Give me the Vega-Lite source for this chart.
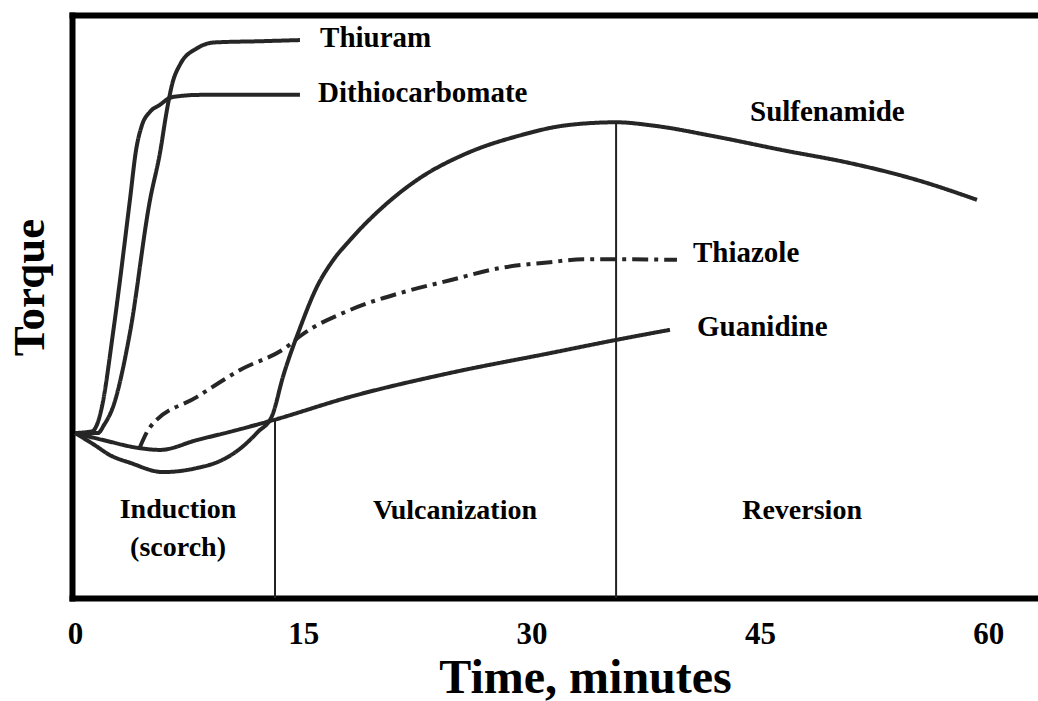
{
  "$schema": "https://vega.github.io/schema/vega-lite/v6.json",
  "width": 966,
  "height": 583,
  "autosize": {"type": "none"},
  "padding": {"left": 72, "top": 15, "right": 0, "bottom": 103},
  "background": "white",
  "config": {"view": {"stroke": null}, "font": "Liberation Serif"},
  "datasets": {
    "curves": [
      {"series": "Thiuram", "time": 0, "torque": 28.3},
      {"series": "Thiuram", "time": 1.51, "torque": 28.3},
      {"series": "Thiuram", "time": 1.91, "torque": 29.7},
      {"series": "Thiuram", "time": 2.5, "torque": 32.8},
      {"series": "Thiuram", "time": 3.61, "torque": 45.5},
      {"series": "Thiuram", "time": 4.93, "torque": 68.3},
      {"series": "Thiuram", "time": 5.58, "torque": 76.3},
      {"series": "Thiuram", "time": 6.04, "torque": 83.7},
      {"series": "Thiuram", "time": 6.37, "torque": 88.0},
      {"series": "Thiuram", "time": 6.9, "torque": 91.5},
      {"series": "Thiuram", "time": 8.02, "torque": 94.3},
      {"series": "Thiuram", "time": 9.2, "torque": 95.3},
      {"series": "Thiuram", "time": 12.16, "torque": 95.5},
      {"series": "Thiuram", "time": 14.78, "torque": 95.7},
      {"series": "Dithiocarbomate", "time": 0, "torque": 28.3},
      {"series": "Dithiocarbomate", "time": 1.12, "torque": 28.6},
      {"series": "Dithiocarbomate", "time": 1.51, "torque": 30.2},
      {"series": "Dithiocarbomate", "time": 1.77, "torque": 32.8},
      {"series": "Dithiocarbomate", "time": 2.5, "torque": 45.5},
      {"series": "Dithiocarbomate", "time": 3.61, "torque": 68.3},
      {"series": "Dithiocarbomate", "time": 4.01, "torque": 76.8},
      {"series": "Dithiocarbomate", "time": 4.4, "torque": 81.1},
      {"series": "Dithiocarbomate", "time": 4.93, "torque": 83.4},
      {"series": "Dithiocarbomate", "time": 5.58, "torque": 84.6},
      {"series": "Dithiocarbomate", "time": 6.24, "torque": 85.8},
      {"series": "Dithiocarbomate", "time": 6.9, "torque": 86.1},
      {"series": "Dithiocarbomate", "time": 8.21, "torque": 86.3},
      {"series": "Dithiocarbomate", "time": 14.78, "torque": 86.3},
      {"series": "Sulfenamide", "time": 0, "torque": 28.3},
      {"series": "Sulfenamide", "time": 1.31, "torque": 26.2},
      {"series": "Sulfenamide", "time": 2.3, "torque": 24.5},
      {"series": "Sulfenamide", "time": 3.61, "torque": 23.2},
      {"series": "Sulfenamide", "time": 5.78, "torque": 21.6},
      {"series": "Sulfenamide", "time": 8.02, "torque": 22.3},
      {"series": "Sulfenamide", "time": 9.53, "torque": 23.5},
      {"series": "Sulfenamide", "time": 10.84, "torque": 25.6},
      {"series": "Sulfenamide", "time": 12.02, "torque": 28.5},
      {"series": "Sulfenamide", "time": 12.94, "torque": 31.2},
      {"series": "Sulfenamide", "time": 13.67, "torque": 38.0},
      {"series": "Sulfenamide", "time": 14.78, "torque": 46.3},
      {"series": "Sulfenamide", "time": 15.9, "torque": 53.4},
      {"series": "Sulfenamide", "time": 16.95, "torque": 57.9},
      {"series": "Sulfenamide", "time": 18.07, "torque": 61.4},
      {"series": "Sulfenamide", "time": 20.24, "torque": 67.1},
      {"series": "Sulfenamide", "time": 22.47, "torque": 71.7},
      {"series": "Sulfenamide", "time": 25.76, "torque": 76.3},
      {"series": "Sulfenamide", "time": 29.04, "torque": 79.2},
      {"series": "Sulfenamide", "time": 32.33, "torque": 81.1},
      {"series": "Sulfenamide", "time": 35.61, "torque": 81.6},
      {"series": "Sulfenamide", "time": 37.78, "torque": 81.1},
      {"series": "Sulfenamide", "time": 42.18, "torque": 79.1},
      {"series": "Sulfenamide", "time": 46.52, "torque": 76.8},
      {"series": "Sulfenamide", "time": 50.92, "torque": 74.6},
      {"series": "Sulfenamide", "time": 55.32, "torque": 71.7},
      {"series": "Sulfenamide", "time": 59.26, "torque": 68.3},
      {"series": "Guanidine", "time": 0, "torque": 28.3},
      {"series": "Guanidine", "time": 1.84, "torque": 27.1},
      {"series": "Guanidine", "time": 4.27, "torque": 25.7},
      {"series": "Guanidine", "time": 5.58, "torque": 25.4},
      {"series": "Guanidine", "time": 8.02, "torque": 27.1},
      {"series": "Guanidine", "time": 10.18, "torque": 28.5},
      {"series": "Guanidine", "time": 13.01, "torque": 30.5},
      {"series": "Guanidine", "time": 18.07, "torque": 34.5},
      {"series": "Guanidine", "time": 24.64, "torque": 38.6},
      {"series": "Guanidine", "time": 31.21, "torque": 42.0},
      {"series": "Guanidine", "time": 35.61, "torque": 44.3},
      {"series": "Guanidine", "time": 39.09, "torque": 46.0},
      {"series": "Thiazole", "time": 4.27, "torque": 25.9},
      {"series": "Thiazole", "time": 4.93, "torque": 29.3},
      {"series": "Thiazole", "time": 8.02, "torque": 34.5},
      {"series": "Thiazole", "time": 10.84, "torque": 39.1},
      {"series": "Thiazole", "time": 13.93, "torque": 43.1},
      {"series": "Thiazole", "time": 14.78, "torque": 44.9},
      {"series": "Thiazole", "time": 18.07, "torque": 49.4},
      {"series": "Thiazole", "time": 21.35, "torque": 52.3},
      {"series": "Thiazole", "time": 24.64, "torque": 54.5},
      {"series": "Thiazole", "time": 27.92, "torque": 56.6},
      {"series": "Thiazole", "time": 31.21, "torque": 57.6},
      {"series": "Thiazole", "time": 33.38, "torque": 58.1},
      {"series": "Thiazole", "time": 35.61, "torque": 58.1},
      {"series": "Thiazole", "time": 39.55, "torque": 58.0}
    ],
    "phases": [
      {"time": 13.14, "torque": 30.5},
      {"time": 35.55, "torque": 81.6}
    ],
    "curveLabels": [
      {"label": "Thiuram", "time": 16.1, "torque": 96.1},
      {"label": "Dithiocarbomate", "time": 15.97, "torque": 86.6},
      {"label": "Sulfenamide", "time": 44.35, "torque": 83.4},
      {"label": "Thiazole", "time": 40.6, "torque": 59.2},
      {"label": "Guanidine", "time": 40.87, "torque": 46.5}
    ],
    "phaseLabels": [
      {"label": "Induction", "time": 6.77, "torque": 15.1},
      {"label": "(scorch)", "time": 6.77, "torque": 8.6},
      {"label": "Vulcanization", "time": 24.97, "torque": 14.9},
      {"label": "Reversion", "time": 47.77, "torque": 14.9}
    ]
  },
  "layer": [
    {
      "data": {"name": "curves"},
      "mark": {"type": "line", "interpolate": "monotone", "strokeWidth": 4, "color": "#262626"},
      "encoding": {
        "x": {
          "field": "time", "type": "quantitative",
          "scale": {"domain": [-0.197, 63.27], "nice": false, "zero": false},
          "axis": {
            "orient": "bottom", "values": [0, 15, 30, 45, 60], "ticks": false, "tickSize": 0, "grid": false,
            "domainColor": "black", "domainWidth": 6, "domainCap": "square",
            "labelFont": "Liberation Serif", "labelFontSize": 31, "labelFontWeight": "bold", "labelColor": "black",
            "labelBaseline": "alphabetic", "labelPadding": 45, "labelFlush": false, "labelOverlap": false,
            "title": "Time, minutes", "titleFont": "Liberation Serif", "titleFontSize": 48, "titleFontWeight": "bold",
            "titleColor": "black", "titleX": 513, "titleY": 94, "titleBaseline": "alphabetic", "titleAlign": "center"
          }
        },
        "y": {
          "field": "torque", "type": "quantitative",
          "scale": {"domain": [0, 100], "nice": false, "zero": false},
          "axis": {
            "orient": "left", "domainColor": "black", "domainWidth": 6, "domainCap": "square",
            "ticks": false, "labels": false, "grid": false,
            "title": "Torque", "titleFont": "Liberation Serif", "titleFontSize": 45, "titleFontWeight": "bold",
            "titleColor": "black", "titleAngle": -90, "titleX": -43, "titleY": 272,
            "titleBaseline": "middle", "titleAlign": "center"
          }
        },
        "strokeDash": {
          "field": "series", "type": "nominal",
          "scale": {"domain": ["Thiuram", "Dithiocarbomate", "Sulfenamide", "Thiazole", "Guanidine"],
                    "range": [[1, 0], [1, 0], [1, 0], [16, 6, 4, 6], [1, 0]]},
          "legend": null
        }
      }
    },
    {
      "data": {"name": "phases"},
      "mark": {"type": "rule", "strokeWidth": 2, "color": "#222222"},
      "encoding": {
        "x": {
          "field": "time", "type": "quantitative",
          "axis": {"orient": "top", "labels": false, "ticks": false, "grid": false, "title": null,
                   "domainColor": "black", "domainWidth": 6, "domainCap": "square"}
        },
        "y": {"field": "torque", "type": "quantitative"},
        "y2": {"datum": 0}
      }
    },
    {
      "data": {"name": "curveLabels"},
      "mark": {"type": "text", "align": "left", "baseline": "middle", "font": "Liberation Serif", "fontSize": 29, "fontWeight": "bold", "color": "black"},
      "encoding": {
        "x": {"field": "time", "type": "quantitative", "axis": null},
        "y": {"field": "torque", "type": "quantitative"},
        "text": {"field": "label"}
      }
    },
    {
      "data": {"name": "phaseLabels"},
      "mark": {"type": "text", "align": "center", "baseline": "middle", "font": "Liberation Serif", "fontSize": 28, "fontWeight": "bold", "color": "black"},
      "encoding": {
        "x": {"field": "time", "type": "quantitative", "axis": null},
        "y": {"field": "torque", "type": "quantitative"},
        "text": {"field": "label"}
      }
    }
  ],
  "resolve": {"axis": {"x": "independent"}}
}
